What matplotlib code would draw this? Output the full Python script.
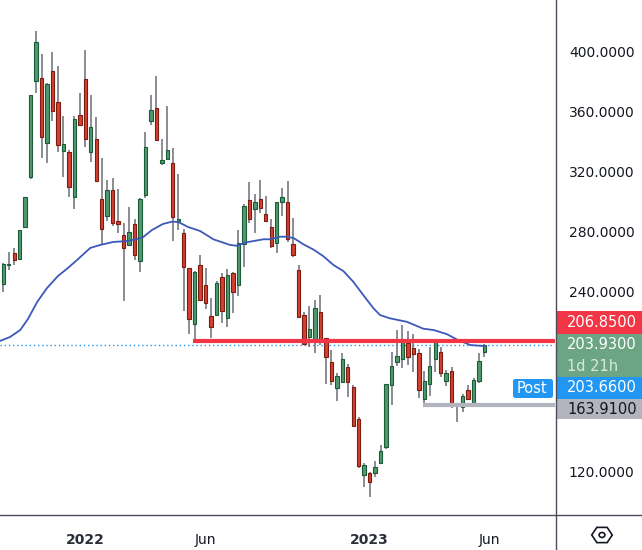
import matplotlib
matplotlib.use('Agg')
import matplotlib.pyplot as plt
from matplotlib.patches import Rectangle, FancyBboxPatch, RegularPolygon, Circle
from matplotlib.lines import Line2D
import numpy as np
import pandas as pd

# weekly candles, first week starting 2021-09-20
start = '2021-09-20'
opens = [244.5, 257.3, 265.1, 261.5, 282.9, 315.8, 380.2, 381.8, 338.5, 386.5,
         365.8, 333.1, 332.5, 302.9, 357.1, 381.1, 332.5, 341.1, 301.1, 290.2,
         307.3, 286.5, 277.1, 270.9, 284.5, 259.8, 304.0, 353.5, 361.8, 325.5,
         328.2, 325.1, 286.5, 278.5, 255.1, 218.0, 257.1, 243.8, 223.3, 224.2,
         249.1, 222.2, 251.8, 244.2, 271.3, 300.5, 294.5, 301.1, 291.1, 282.5,
         271.8, 299.5, 299.1, 271.3, 254.0, 223.8, 209.5, 205.8, 225.8, 208.5,
         192.5, 175.5, 179.5, 189.1, 175.8, 154.5, 117.5, 118.9, 118.9, 125.5,
         135.8, 177.5, 192.9, 194.7, 205.1, 202.0, 198.5, 167.8, 177.8, 194.5,
         199.5, 180.0, 186.5, 164.7, 162.9, 174.0, 164.7, 180.2, 199.5]
highs = [258.5, 265.8, 268.5, 281.0, 303.0, 371.0, 413.3, 398.0, 378.9, 399.3,
         390.0, 356.7, 334.0, 356.5, 372.0, 401.0, 370.5, 356.0, 328.5, 314.0,
         315.3, 308.0, 285.1, 296.0, 288.0, 302.0, 346.0, 370.7, 383.3, 341.3,
         363.3, 335.3, 318.0, 281.3, 255.5, 253.5, 264.0, 255.1, 235.3, 246.7,
         251.8, 254.5, 252.7, 280.5, 298.2, 312.7, 304.7, 314.0, 303.3, 287.8,
         299.5, 308.5, 313.1, 288.5, 257.3, 226.2, 230.0, 234.0, 237.3, 208.8,
         200.7, 185.5, 198.9, 191.3, 177.3, 155.8, 125.1, 119.2, 126.5, 137.1,
         178.0, 199.5, 214.0, 217.1, 213.5, 211.3, 201.1, 186.7, 202.9, 207.8,
         202.9, 187.3, 189.5, 165.0, 171.1, 177.3, 182.2, 198.5, 204.7]
lows = [239.5, 254.0, 257.3, 261.0, 282.0, 314.5, 372.2, 328.9, 325.5, 353.5,
        332.9, 316.2, 302.9, 294.9, 350.0, 336.2, 326.2, 312.9, 270.5, 286.7,
        283.5, 278.9, 233.5, 270.0, 260.7, 252.5, 302.2, 350.7, 340.0, 324.2,
        328.0, 273.5, 280.7, 226.9, 211.3, 205.5, 233.5, 228.2, 208.9, 224.0,
        218.7, 216.2, 225.1, 236.9, 256.2, 285.5, 278.9, 292.2, 286.2, 269.0,
        265.5, 290.2, 272.9, 262.5, 222.2, 204.0, 202.5, 198.9, 204.0, 177.8,
        177.1, 166.9, 178.5, 169.5, 150.0, 121.8, 109.1, 102.9, 115.8, 125.0,
        134.7, 163.8, 190.2, 188.5, 190.7, 186.2, 168.9, 164.0, 170.2, 185.8,
        182.9, 176.9, 162.0, 152.9, 159.5, 167.3, 164.5, 178.9, 195.8]
closes = [257.8, 258.0, 260.7, 280.5, 302.5, 370.5, 405.8, 342.9, 378.0, 359.8,
          337.1, 337.8, 309.5, 354.7, 350.9, 341.1, 349.1, 313.5, 281.5, 307.3,
          285.5, 284.9, 268.9, 279.1, 264.2, 301.1, 335.8, 360.5, 340.9, 327.3,
          334.0, 289.5, 287.8, 255.8, 221.1, 252.7, 234.2, 231.8, 216.2, 245.1,
          226.9, 250.5, 239.5, 271.8, 296.7, 287.8, 299.1, 295.5, 286.9, 269.8,
          299.1, 302.5, 274.5, 264.2, 222.9, 204.9, 214.5, 228.7, 206.9, 195.8,
          180.2, 183.1, 194.5, 179.1, 150.2, 123.5, 123.8, 112.9, 122.5, 133.5,
          177.8, 189.8, 196.7, 207.8, 196.2, 197.8, 173.8, 180.0, 190.0, 207.3,
          185.1, 185.1, 164.7, 164.4, 170.0, 167.8, 180.7, 193.3, 203.93]

# moving average (candle index, value)
ma_idx = [-0.6, 1.2, 3.1, 4.5, 6.2, 8.0, 10.0, 11.8, 13.5, 15.9, 17.7, 20.1, 22.6,
          24.5, 25.6, 27.2, 29.2, 30.9, 32.0, 33.8, 36.0, 37.2, 38.4, 41.5, 42.7,
          44.5, 47.6, 48.8, 50.6, 51.8, 53.1, 54.9, 56.7, 58.5, 60.4, 62.2, 64.0,
          65.9, 67.7, 68.9, 70.7, 73.8, 76.8, 78.7, 81.1, 82.9, 85.4, 88.0]
ma_val = [206.7, 209.3, 214.0, 221.3, 232.7, 242.0, 250.0, 255.3, 260.7, 268.7,
          270.7, 272.7, 273.3, 274.7, 276.0, 280.7, 284.7, 286.3, 286.0, 282.7,
          280.0, 277.3, 274.5, 270.7, 270.2, 272.5, 274.5, 274.5, 276.2, 276.2,
          275.3, 271.1, 267.7, 263.3, 257.3, 253.3, 246.2, 237.0, 228.5, 224.0,
          221.8, 219.5, 214.9, 214.0, 211.3, 207.8, 204.0, 203.3]

yticks = [120, 240, 280, 320, 360, 400]
xtick_dates = ['2022-01-03', '2022-06-06', '2023-01-02', '2023-06-05']
xtick_labels = ['2022', 'Jun', '2023', 'Jun']

resistance = 206.85
support = 163.91
last_price = 203.93
post_price = 203.66

W, H = 642, 550
fig = plt.figure(figsize=(W / 100, H / 100), dpi=100)
ax = fig.add_axes([0, 35 / H, 555 / W, 515 / H])

x = np.arange(len(opens))
o = np.array(opens); c = np.array(closes)
up = c >= o
col_up, edge_up = '#4e9a6e', '#1d5a38'
col_dn, edge_dn = '#d4412f', '#7a1c12'

ax.vlines(x, lows, highs, color='#6b6e77', linewidth=1.1, zorder=2)
bottoms = np.minimum(o, c)
heights = np.maximum(np.abs(c - o), 0.8)
ax.bar(x[up], heights[up], bottom=bottoms[up], width=0.62,
       color=col_up, edgecolor=edge_up, linewidth=0.8, zorder=3)
ax.bar(x[~up], heights[~up], bottom=bottoms[~up], width=0.62,
       color=col_dn, edgecolor=edge_dn, linewidth=0.8, zorder=3)

ax.plot(ma_idx, ma_val, color='#3c58ba', linewidth=1.3, zorder=4,
        solid_joinstyle='round')

ax.axhline(last_price, color='#2196f3', linewidth=1, linestyle=(0, (1, 2)), zorder=1)
ax.plot([34.65, 110], [resistance, resistance], color='#f23645', linewidth=3, zorder=5,
        solid_capstyle='butt')
ax.plot([76.7, 110], [support, support], color='#b2b5be', linewidth=3, zorder=5,
        solid_capstyle='butt')

ax.set_xlim(-0.6, 100.9)
ax.set_ylim(90.7, 434)

# axes styling
for s in ['top', 'left', 'bottom', 'right']:
    ax.spines[s].set_visible(False)
ax.yaxis.tick_right()
ax.set_yticks(yticks)
ax.set_yticklabels(['%.4f' % v for v in yticks])
ax.tick_params(axis='y', length=0, pad=10, labelsize=10, labelcolor='#131722')

d0 = pd.Timestamp(start)
xt = [(pd.Timestamp(d) - d0).days / 7 for d in xtick_dates]
ax.set_xticks(xt)
ax.set_xticklabels(xtick_labels)
ax.tick_params(axis='x', length=0, pad=13, labelsize=10, labelcolor='#131722')
for lab in ax.get_xticklabels():
    if lab.get_text() != 'Jun':
        lab.set_fontweight('semibold')
        lab.set_color('#2a2e39')

# frame lines
fig.add_artist(Line2D([0, 1], [35 / H, 35 / H], color='#4a4d57', linewidth=1))
fig.add_artist(Line2D([555.5 / W, 555.5 / W], [0, 1], color='#4a4d57', linewidth=1))


def fx(px):
    return px / W


def fy(py):
    return 1 - py / H


def badge(y0, y1, color, lines, tcolors):
    fig.add_artist(Rectangle((fx(556), fy(y1)), fx(642) - fx(556), fy(y0) - fy(y1),
                             facecolor=color, edgecolor='none', transform=fig.transFigure))
    n = len(lines)
    for k, (t, tc) in enumerate(zip(lines, tcolors)):
        yc = y0 + (y1 - y0) * (k + 0.5) / n
        fig.text(fx(567), fy(yc), t, color=tc, fontsize=10.5, ha='left', va='center')


badge(311, 333.5, '#f23645', ['%.4f' % resistance], ['white'])
badge(333.5, 377, '#6ba583', ['%.4f' % last_price, '1d 21h'], ['white', '#d6eadc'])
badge(377, 399, '#2196f3', ['%.4f' % post_price], ['white'])
badge(399, 419, '#b2b5be', ['%.4f' % support], ['#131722'])

fig.add_artist(FancyBboxPatch((fx(513), fy(398)), fx(553) - fx(513), fy(379) - fy(398),
                              boxstyle='round,pad=0,rounding_size=0.004',
                              facecolor='#2196f3', edgecolor='none',
                              transform=fig.transFigure))
fig.text(fx(532), fy(388.5), 'Post', color='white', fontsize=10.5, ha='center', va='center')

# settings icon
fig.add_artist(RegularPolygon((fx(602), fy(535)), 6, radius=0.016, orientation=np.pi / 6,
                              facecolor='none', edgecolor='#131722', linewidth=1.2,
                              transform=fig.transFigure))
fig.add_artist(Circle((fx(602), fy(535)), 0.0045, facecolor='none', edgecolor='#131722',
                      linewidth=1.2, transform=fig.transFigure))

fig.savefig('out.png', dpi=100)
